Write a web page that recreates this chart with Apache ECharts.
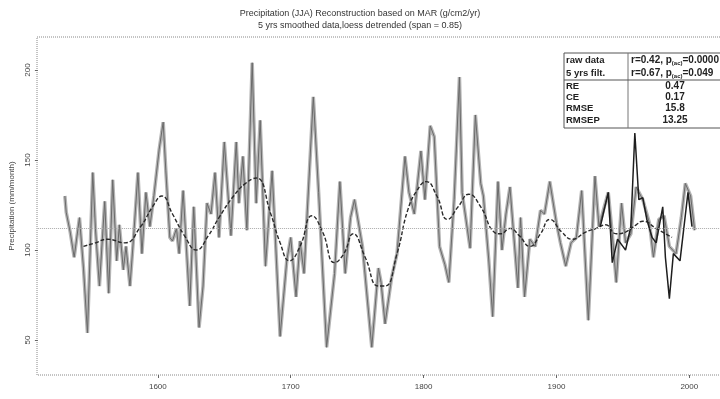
<!DOCTYPE html>
<html>
<head>
<meta charset="utf-8">
<script src="https://cdn.jsdelivr.net/npm/echarts@6/dist/echarts.min.js"></script>
<style>
  html, body { margin: 0; padding: 0; background: #fff; }
  #main { width: 720px; height: 399px; }
</style>
</head>
<body>
<div id="main"></div>
<script>
const rawYears = [1530, 1531, 1534, 1537, 1541, 1544, 1547, 1551, 1553, 1556, 1560, 1563, 1566, 1569, 1571, 1574, 1576, 1579,
  1582, 1585, 1588, 1591, 1594, 1597, 1601, 1604, 1606, 1609, 1611, 1614, 1616, 1619, 1624, 1627, 1631, 1634, 1637,
  1640, 1643, 1646, 1650, 1655, 1659, 1661, 1664, 1667, 1671, 1674, 1677, 1681, 1686, 1692, 1697, 1700, 1704,
  1707, 1710, 1717, 1721, 1727, 1733, 1737, 1741, 1745, 1748, 1754, 1761, 1766, 1768, 1771, 1776, 1780, 1786,
  1789, 1793, 1798, 1801, 1805, 1808, 1812, 1816, 1819, 1823, 1827, 1829, 1835, 1839, 1843, 1845, 1849, 1852, 1856,
  1859, 1862, 1865, 1871, 1873, 1876, 1880, 1884, 1888, 1891, 1895, 1900, 1903, 1907, 1911, 1915, 1919, 1924, 1929,
  1932, 1936, 1939, 1942, 1945, 1949, 1952, 1956, 1960, 1965, 1970, 1973, 1977, 1981, 1985, 1990, 1994, 1997,
  2001, 2004];
const rawValues = [130, 121, 110, 96, 118, 90, 54, 143, 112, 80, 127, 76, 139, 94, 114, 89, 102, 80,
  110, 143, 98, 132, 113, 130, 156, 171, 144, 107, 105, 112, 98, 133, 69, 124, 57, 80, 126,
  120, 143, 107, 160, 108, 160, 126, 152, 111, 204, 126, 172, 91, 144, 52, 94, 107, 74,
  105, 87, 185, 132, 46, 87, 138, 87, 118, 128, 102, 46, 90, 82, 59, 85, 98, 152,
  132, 120, 155, 128, 169, 163, 102, 92, 82, 128, 196, 132, 101, 175, 137, 130, 95, 63, 138,
  100, 120, 135, 79, 118, 74, 106, 102, 122, 120, 138, 115, 104, 91, 104, 107, 133, 61, 141,
  113, 124, 132, 109, 82, 126, 104, 109, 135, 128, 115, 96, 117, 119, 102, 98, 118, 137,
  130, 111];

// instrumental record
const obsYears = [1933, 1939, 1942, 1946, 1950, 1952, 1956, 1959, 1962, 1965, 1968, 1972, 1975, 1980,
  1982, 1985, 1988, 1993, 1996, 1999, 2002];
const obsValues = [113, 132, 93, 106, 102, 100, 113, 165, 128, 129, 117, 107, 104, 124,
  96, 73, 98, 94, 113, 132, 113];

// loess smoothed reconstruction
const smoothYears = [1544, 1553, 1562, 1575, 1587, 1596, 1603, 1611, 1620, 1629, 1638, 1646, 1657, 1666,
  1674, 1685, 1692, 1699, 1707, 1716, 1724, 1733, 1740, 1747, 1756, 1766, 1771, 1780, 1788, 1795, 1802,
  1810, 1818, 1826, 1834, 1843, 1853, 1858, 1865, 1872, 1880, 1888, 1895, 1904, 1912, 1922, 1930, 1937,
  1945, 1952, 1960, 1965, 1975, 1987];
const smoothValues = [102, 104, 106, 104, 113, 124, 130, 120, 108, 100, 108, 118, 130, 137,
  140, 120, 104, 94, 102, 119, 110, 93, 98, 109, 96, 80, 80, 98, 122, 133, 138,
  130, 117, 124, 131, 124, 110, 109, 112, 108, 102, 109, 117, 110, 106, 110, 112, 114,
  109, 110, 114, 116, 112, 107];

const meanValue = 112;
const xTicks = [1600, 1700, 1800, 1900, 2000];
const yTicks = [50, 100, 150, 200];

const tableLeft = ['raw data', '5 yrs filt.', 'RE', 'CE', 'RMSE', 'RMSEP'];
const tableRight = ['r=0.42, p{s|(ac)}=0.0000', 'r=0.67, p{s|(ac)}=0.049', '0.47', '0.17', '15.8', '13.25'];

const zip = (xs, ys) => xs.map((x, i) => [x, ys[i]]);
const FONT = 'Liberation Sans';

const chart = echarts.init(document.getElementById('main'));

// table rows (y positions of row centres)
const rowY = [60, 73, 86, 97, 108, 120];
const tableEls = [
  { type: 'rect', shape: { x: 564, y: 53, width: 170, height: 75 },
    style: { fill: '#fff', stroke: '#555', lineWidth: 1 } },
  { type: 'line', shape: { x1: 628, y1: 53, x2: 628, y2: 128 }, style: { stroke: '#777', lineWidth: 1 } },
  { type: 'line', shape: { x1: 564, y1: 80, x2: 734, y2: 80 }, style: { stroke: '#555', lineWidth: 1 } }
];
tableLeft.forEach((t, i) => {
  tableEls.push({ type: 'text', x: 566, y: rowY[i],
    style: { text: t, font: 'bold 9.5px ' + FONT, fill: '#222', verticalAlign: 'middle' } });
});
tableRight.forEach((t, i) => {
  const first = i < 2;
  tableEls.push({ type: 'text', x: first ? 631 : 675, y: rowY[i],
    style: { text: t, font: 'bold 10px ' + FONT, fill: '#222', verticalAlign: 'middle',
      align: first ? 'left' : 'center',
      rich: { s: { fontSize: 6, fontWeight: 'bold', verticalAlign: 'bottom', padding: [6, 0, 0, 0] } } } });
});

chart.setOption({
  animation: false,
  backgroundColor: '#fff',
  textStyle: { fontFamily: FONT },
  title: {
    text: 'Precipitation (JJA) Reconstruction based on MAR (g/cm2/yr)\n5 yrs smoothed data,loess detrended (span = 0.85)',
    left: 'center',
    top: 3,
    textStyle: { fontSize: 9, fontWeight: 'normal', color: '#333', lineHeight: 12, fontFamily: FONT }
  },
  grid: { left: 37, right: -5, top: 37, bottom: 24, containLabel: false },
  xAxis: {
    type: 'value',
    min: 1509.7,
    max: 2023.1,
    axisLine: { show: false },
    splitLine: { show: false },
    axisTick: { show: true, length: 3, customValues: xTicks, lineStyle: { color: '#666' } },
    axisLabel: { customValues: xTicks, fontSize: 8, color: '#444', margin: 8, formatter: v => String(v) }
  },
  yAxis: {
    type: 'value',
    min: 30.6,
    max: 218.3,
    name: 'Precipitation (mm/month)',
    nameLocation: 'middle',
    nameGap: 20,
    nameRotate: 90,
    nameTextStyle: { fontSize: 8, color: '#444' },
    axisLine: { show: false },
    splitLine: { show: false },
    axisTick: { show: true, length: 3, customValues: yTicks, lineStyle: { color: '#666' } },
    axisLabel: { customValues: yTicks, fontSize: 8, color: '#444', rotate: 90, margin: 6 }
  },
  graphic: [
    { type: 'rect', shape: { x: 37, y: 37, width: 700, height: 338 }, silent: true,
      style: { fill: 'none', stroke: '#888', lineWidth: 1, lineDash: [1, 1] } },
    { type: 'group', children: tableEls, z: 100 }
  ],
  series: [
    {
      name: 'band',
      type: 'line',
      data: zip(rawYears, rawValues),
      showSymbol: false,
      lineStyle: { color: '#b4b4b4', width: 3.5 },
      z: 1,
      markLine: {
        silent: true,
        symbol: 'none',
        label: { show: false },
        lineStyle: { color: '#aaa', type: 'dotted', width: 1 },
        data: [{ yAxis: meanValue }]
      }
    },
    {
      name: 'reconstruction',
      type: 'line',
      data: zip(rawYears, rawValues),
      showSymbol: false,
      lineStyle: { color: '#6a6a6a', width: 1 },
      z: 2
    },
    {
      name: 'smoothed',
      type: 'line',
      data: zip(smoothYears, smoothValues),
      showSymbol: false,
      smooth: true,
      lineStyle: { color: '#2a2a2a', width: 1.4, type: [4, 2] },
      z: 3
    },
    {
      name: 'observed',
      type: 'line',
      data: zip(obsYears, obsValues),
      showSymbol: false,
      lineStyle: { color: '#1e1e1e', width: 1.5 },
      z: 4
    }
  ]
});
</script>
</body>
</html>
